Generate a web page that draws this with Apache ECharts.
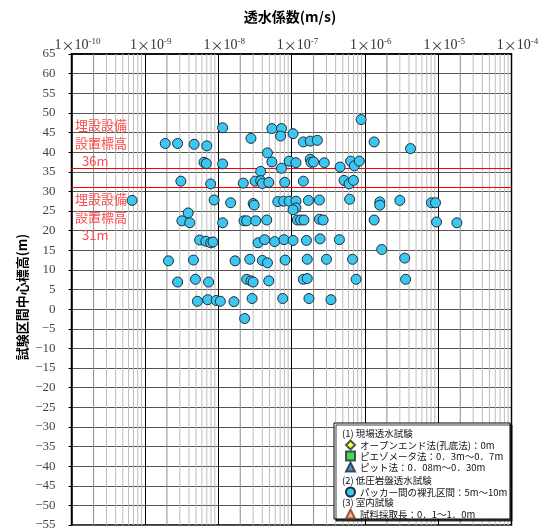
<!DOCTYPE html>
<html><head><meta charset="utf-8">
<script src="https://cdn.jsdelivr.net/npm/echarts@6/dist/echarts.min.js"></script>
<style>html,body{margin:0;padding:0;background:#fff}#c{width:549px;height:530px}</style>
</head><body><div id="c"></div>
<script>
// ---- data ----
const permeability = [
  1.15e-8, 5.4e-8, 7.3e-8, 1.05e-7, 7.1e-8, 2.8e-8, 1.9e-9, 2.8e-9, 4.7e-9, 7.0e-9,
  4.7e-8, 6.4e-9, 6.9e-9, 1.15e-8, 5.4e-8, 9.3e-8, 7.3e-8, 3.8e-8, 3.1e-9, 7.9e-9,
  2.2e-8, 3.2e-8, 3.8e-8, 4.0e-8, 4.9e-8, 8.1e-8, 6.7e-10, 8.8e-9, 1.48e-8, 3.0e-8,
  3.1e-8, 6.5e-8, 7.8e-8, 9.3e-8, 1.15e-7, 1.15e-7, 1.05e-7, 3.9e-9, 1.45e-7, 1.45e-7,
  1.8e-7, 2.25e-7, 1.34e-6, 4.2e-6, 8.9e-7, 1.15e-7, 1.8e-7, 1.85e-7, 2.0e-7, 2.8e-7,
  4.6e-7, 6.4e-7, 7.2e-7, 8.4e-7, 5.2e-7, 6.1e-7, 7.0e-7, 1.7e-7, 2.4e-7, 6.2e-7,
  1.6e-6, 1.6e-6, 3.0e-6, 8.1e-6, 9.2e-6, 3.2e-9, 4.1e-9, 1.15e-8, 2.25e-8, 2.45e-8,
  3.25e-8, 4.6e-8, 1.2e-7, 1.33e-7, 1.48e-7, 2.4e-7, 2.7e-7, 1.34e-6, 9.5e-6, 1.8e-5,
  5.6e-9, 6.8e-9, 7.9e-9, 8.5e-9, 3.5e-8, 4.3e-8, 5.9e-8, 7.9e-8, 1.05e-7, 1.6e-7,
  2.45e-7, 4.5e-7, 1.7e-6, 2.1e-9, 4.6e-9, 1.7e-8, 2.7e-8, 4.0e-8, 4.7e-8, 8.2e-8,
  1.64e-7, 3.0e-7, 6.8e-7, 3.5e-6, 2.8e-9, 4.9e-9, 7.4e-9, 2.45e-8, 2.8e-8, 3.0e-8,
  4.9e-8, 1.45e-7, 1.64e-7, 7.6e-7, 3.6e-6, 5.2e-9, 7.2e-9, 9.4e-9, 1.07e-8, 1.64e-8,
  2.9e-8, 7.6e-8, 1.73e-7, 3.45e-7, 2.3e-8
];
const elevation = [
  46.2, 46.0, 46.0, 44.7, 44.1, 43.5, 42.2, 42.2, 42.0, 41.6,
  39.8, 37.4, 37.1, 37.0, 37.5, 37.7, 35.9, 35.1, 32.6, 31.9,
  32.1, 32.6, 32.7, 32.0, 32.3, 32.3, 27.7, 27.8, 27.1, 26.9,
  26.5, 27.4, 27.5, 27.5, 27.5, 25.8, 25.3, 24.5, 32.6, 42.6,
  42.8, 43.0, 42.6, 40.9, 48.3, 37.3, 38.2, 37.4, 37.5, 37.3,
  36.2, 37.7, 36.5, 37.7, 32.8, 31.9, 32.8, 27.7, 27.8, 28.0,
  27.3, 26.5, 27.7, 27.1, 27.1, 22.5, 22.0, 22.0, 22.5, 22.5,
  22.5, 22.7, 22.7, 22.7, 22.7, 22.9, 22.7, 22.7, 22.2, 22.0,
  17.6, 17.3, 16.9, 17.1, 16.9, 17.7, 17.2, 17.7, 17.5, 17.5,
  17.9, 17.7, 15.2, 12.3, 12.5, 12.3, 12.7, 12.4, 11.8, 12.5,
  12.7, 12.7, 12.7, 13.0, 6.9, 7.6, 6.9, 7.6, 7.2, 6.9,
  7.2, 7.6, 7.8, 7.6, 7.6, 2.0, 2.4, 2.2, 2.0, 1.9,
  2.7, 2.7, 2.7, 2.4, -2.4
];
const xMin = 1e-10, xMax = 1e-4;
const yMin = -55, yMax = 65, yStep = 5;
const referenceLevels = [36, 31];
const minorMultipliers = [2, 3, 4, 5, 6, 7, 8, 9];
const decadeExponents = [-10, -9, -8, -7, -6, -5];
const xTitle = '透水係数(m/s)';
const yTitle = '試験区間中心標高(m)';
const legendHeaders = ['(1) 現場透水試験', '(2) 低圧岩盤透水試験', '(3) 室内試験'];
const legendNames = [
  'オープンエンド法(孔底法)：0m',
  'ピエゾメータ法：0．3m～0．7m',
  'ピット法：0．08m～0．30m',
  'パッカー間の裸孔区間：5m～10m',
  '試料採取長：0．1～1．0m'
];
const refLabels = [['埋設設備', '設置標高', '36m'], ['埋設設備', '設置標高', '31m']];

// ---- build ----
const CJK = '"Noto Sans CJK JP", sans-serif';
const SERIF = '"Liberation Serif", "DejaVu Serif", serif';
const points = permeability.map((k, i) => [k, elevation[i]]);

function minorSegments(filterFn) {
  const d = [];
  decadeExponents.forEach(e => minorMultipliers.filter(filterFn).forEach(m => {
    const x = m * Math.pow(10, e);
    d.push([x, yMin], [x, yMax], [x, '-']);
  }));
  return d;
}

const chart = echarts.init(document.getElementById('c'), null, { renderer: 'canvas' });

const graphics = [];
const refTextY = [[125, 143, 161], [199, 217, 235]];
refLabels.forEach((lines, gi) => lines.forEach((t, li) => {
  graphics.push({ type: 'text', x: li === 2 ? 82 : 75, y: refTextY[gi][li], z: 10,
    style: { text: t, fill: '#ff4f4f', font: '13px ' + CJK, verticalAlign: 'middle' } });
}));
graphics.push({ type: 'text', x: 22, y: 297, rotation: Math.PI / 2, z: 10,
  style: { text: yTitle, fill: '#000', font: 'bold 13px ' + CJK, align: 'center', verticalAlign: 'middle' } });
graphics.push({ type: 'rect', z: 20, shape: { x: 334, y: 423, width: 176, height: 96 },
  style: { fill: '#fff', stroke: '#000', lineWidth: 1, shadowColor: 'rgba(0,0,0,0.75)', shadowOffsetX: 2, shadowOffsetY: 2, shadowBlur: 0 } });
const headerY = [433, 480, 502];
legendHeaders.forEach((t, i) => graphics.push({ type: 'text', x: 342, y: headerY[i], z: 21,
  style: { text: t, fill: '#111', font: '9.5px ' + CJK, verticalAlign: 'middle' } }));

const legendRowsY = [444, 455, 466, 491, 513];
const legends = legendNames.map((n, i) => ({
  left: 345, top: legendRowsY[i] - 4.5, data: [n], orient: 'vertical',
  itemWidth: 9, itemHeight: 9, itemGap: 0, selectedMode: false, z: 22, padding: 0,
  textStyle: { fontFamily: CJK, fontSize: 9.5, color: '#111' }
}));

const symbolBorder = '#1e2d3a';
chart.setOption({
  animation: false,
  backgroundColor: '#fff',
  title: { text: xTitle, left: 285, top: 5, textAlign: 'center',
    textStyle: { fontFamily: CJK, fontWeight: 'bold', fontSize: 14, color: '#000' } },
  grid: { left: 71.5, right: 37.5, top: 54, bottom: 5, show: true, borderColor: '#000', borderWidth: 1.5,
    backgroundColor: 'transparent', containLabel: false, outerBoundsMode: 'none' },
  xAxis: {
    type: 'log', logBase: 10, min: xMin, max: xMax, position: 'top', splitNumber: 6,
    axisLine: { show: true, onZero: false, lineStyle: { color: '#000', width: 1.5 } },
    axisTick: { show: false },
    axisLabel: { show: true, margin: 1, showMinLabel: true, showMaxLabel: true,
      formatter: v => '{p|1}{x|×}{b|10}{s|' + Math.round(Math.log10(v)) + '}',
      rich: { p: { fontFamily: SERIF, fontSize: 14, color: '#333', padding: [0, 0, 0, 12] },
              b: { fontFamily: SERIF, fontSize: 14, color: '#333' },
              x: { fontFamily: CJK, fontSize: 13, color: '#333' },
              s: { fontFamily: SERIF, fontSize: 9, color: '#333', padding: [0, 0, 7, 0] } } },
    splitLine: { show: true, lineStyle: { color: '#000', width: 1 } },
    minorTick: { show: false }, minorSplitLine: { show: false }
  },
  yAxis: {
    type: 'value', min: yMin, max: yMax, interval: yStep,
    axisLine: { show: true, onZero: false, lineStyle: { color: '#000', width: 1.5 } },
    axisTick: { show: true, length: 3, inside: false, lineStyle: { color: '#000' } },
    axisLabel: { margin: 16, fontFamily: SERIF, fontSize: 13, color: '#444',
      formatter: v => v < 0 ? '−' + (-v) : String(v) },
    splitLine: { show: true, lineStyle: { color: '#555', width: 1 } }
  },
  legend: legends,
  graphic: graphics,
  series: [
    { type: 'line', data: minorSegments(m => m !== 2), z: 1, silent: true, showSymbol: false, symbol: 'none',
      connectNulls: false, lineStyle: { color: '#bdbdbd', width: 1 } },
    { type: 'line', data: minorSegments(m => m === 2), z: 1, silent: true, showSymbol: false, symbol: 'none',
      connectNulls: false, lineStyle: { color: '#8c8c8c', width: 1 } },
    { type: 'line', data: [], z: 2, silent: true, showSymbol: false,
      markLine: { silent: true, symbol: 'none', label: { show: false }, animation: false,
        lineStyle: { color: '#ff0000', width: 1.2, type: 'solid' },
        data: referenceLevels.map(v => ({ yAxis: v })) } },
    { name: legendNames[0], type: 'scatter', data: [], symbol: 'diamond', symbolSize: 10,
      itemStyle: { color: '#ffff00', borderColor: symbolBorder, borderWidth: 1 } },
    { name: legendNames[1], type: 'scatter', data: [], symbol: 'rect', symbolSize: 9,
      itemStyle: { color: '#22cc22', borderColor: symbolBorder, borderWidth: 1 } },
    { name: legendNames[2], type: 'scatter', data: [], symbol: 'triangle', symbolSize: 10,
      itemStyle: { color: '#1f78d1', borderColor: symbolBorder, borderWidth: 1 } },
    { name: legendNames[3], type: 'scatter', data: points, symbol: 'circle', symbolSize: 10, z: 5,
      itemStyle: { color: '#3cc6f0', borderColor: symbolBorder, borderWidth: 1, opacity: 1 } },
    { name: legendNames[4], type: 'scatter', data: [], symbol: 'triangle', symbolSize: 10,
      itemStyle: { color: '#f4a582', borderColor: '#7a3b1f', borderWidth: 1 } }
  ]
});
</script>
</body></html>
